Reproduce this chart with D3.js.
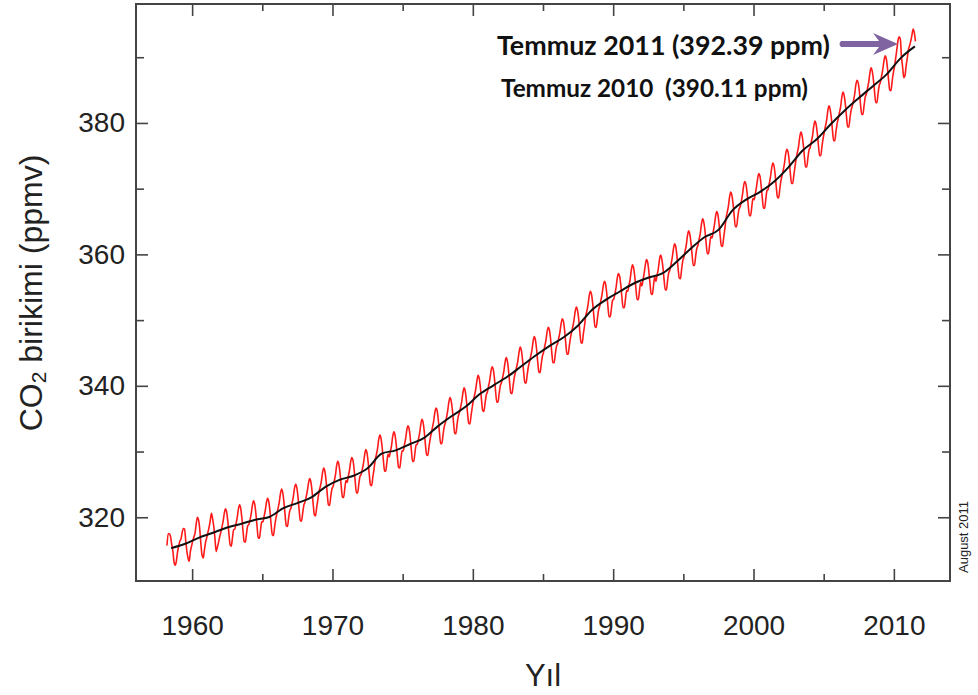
<!DOCTYPE html>
<html>
<head>
<meta charset="utf-8">
<script src="https://cdn.jsdelivr.net/npm/d3@7"></script>
<style>
  body { margin: 0; background: #fff; }
  svg { display: block; }
</style>
</head>
<body>
<div id="chart"></div>
<script>
// Years shown on the chart (Mauna Loa record, March 1958 - July 2011).
const years = [
  1958, 1959, 1960, 1961, 1962, 1963, 1964, 1965, 1966, 1967,
  1968, 1969, 1970, 1971, 1972, 1973, 1974, 1975, 1976, 1977,
  1978, 1979, 1980, 1981, 1982, 1983, 1984, 1985, 1986, 1987,
  1988, 1989, 1990, 1991, 1992, 1993, 1994, 1995, 1996, 1997,
  1998, 1999, 2000, 2001, 2002, 2003, 2004, 2005, 2006, 2007,
  2008, 2009, 2010, 2011
];

// Monthly CO2 values (ppmv), one row per year, Jan..Dec (red curve).
const monthlyCO2 = [
  [null, null, 315.7, 317.5, 317.5, 317.1, 315.9, 314.9, 313.2, 312.7, 313.3, 314.7],
  [315.6, 316.4, 316.7, 317.7, 318.3, 318.2, 316.5, 314.8, 313.8, 313.3, 314.8, 315.6],
  [316.4, 317.0, 317.6, 319.0, 320.0, 319.6, 318.2, 315.9, 314.2, 313.8, 315.0, 316.2],
  [316.9, 317.7, 318.5, 319.5, 320.6, 319.8, 318.6, 316.8, 314.8, 315.4, 316.1, 317.0],
  [317.7, 318.5, 319.4, 320.6, 321.3, 320.8, 319.4, 317.4, 315.8, 315.6, 316.9, 318.1],
  [318.2, 319.0, 319.9, 321.2, 321.9, 321.4, 319.9, 317.9, 316.3, 316.2, 317.5, 318.7],
  [318.9, 319.6, 320.5, 321.8, 322.5, 322.0, 320.6, 318.6, 316.9, 316.8, 318.1, 319.3],
  [319.3, 320.1, 321.0, 322.2, 322.9, 322.4, 321.0, 319.0, 317.4, 317.2, 318.5, 319.7],
  [320.6, 321.4, 322.3, 323.6, 324.3, 323.7, 322.3, 320.3, 318.7, 318.6, 319.9, 321.0],
  [321.4, 322.2, 323.1, 324.4, 325.0, 324.5, 323.1, 321.1, 319.5, 319.4, 320.6, 321.8],
  [322.3, 323.1, 324.0, 325.2, 325.9, 325.4, 324.0, 322.0, 320.4, 320.2, 321.5, 322.7],
  [323.9, 324.6, 325.5, 326.8, 327.5, 327.0, 325.6, 323.6, 321.9, 321.8, 323.1, 324.3],
  [324.7, 325.5, 326.4, 327.8, 328.5, 328.0, 326.6, 324.7, 323.1, 323.0, 324.3, 325.6],
  [325.3, 326.2, 327.1, 328.4, 329.1, 328.7, 327.3, 325.3, 323.7, 323.7, 325.0, 326.2],
  [326.5, 327.3, 328.2, 329.5, 330.3, 329.8, 328.4, 326.4, 324.9, 324.8, 326.1, 327.3],
  [328.7, 329.5, 330.4, 331.8, 332.5, 332.0, 330.6, 328.7, 327.1, 327.0, 328.3, 329.6],
  [329.2, 330.0, 330.9, 332.3, 333.0, 332.5, 331.1, 329.2, 327.6, 327.5, 328.8, 330.1],
  [330.1, 331.0, 331.9, 333.2, 333.9, 333.5, 332.1, 330.1, 328.5, 328.5, 329.8, 331.0],
  [331.1, 331.9, 332.8, 334.1, 334.9, 334.4, 333.0, 331.0, 329.5, 329.4, 330.7, 331.9],
  [332.8, 333.7, 334.6, 335.9, 336.6, 336.2, 334.8, 332.8, 331.2, 331.2, 332.5, 333.7],
  [334.4, 335.2, 336.2, 337.5, 338.2, 337.7, 336.4, 334.4, 332.8, 332.7, 334.1, 335.3],
  [335.9, 336.7, 337.6, 338.9, 339.7, 339.2, 337.8, 335.8, 334.3, 334.2, 335.5, 336.7],
  [337.8, 338.6, 339.5, 340.8, 341.6, 341.1, 339.7, 337.7, 336.2, 336.1, 337.4, 338.6],
  [339.1, 340.0, 340.9, 342.2, 342.9, 342.5, 341.1, 339.1, 337.5, 337.5, 338.8, 340.0],
  [340.5, 341.3, 342.2, 343.5, 344.3, 343.8, 342.4, 340.4, 338.9, 338.8, 340.1, 341.3],
  [342.1, 342.9, 343.8, 345.1, 345.9, 345.4, 344.0, 342.0, 340.5, 340.4, 341.7, 342.9],
  [343.7, 344.5, 345.4, 346.7, 347.5, 347.0, 345.6, 343.6, 342.1, 342.0, 343.3, 344.5],
  [345.1, 346.0, 346.9, 348.2, 348.9, 348.5, 347.1, 345.1, 343.5, 343.5, 344.8, 346.0],
  [346.4, 347.3, 348.2, 349.5, 350.2, 349.8, 348.4, 346.4, 344.8, 344.8, 346.1, 347.3],
  [348.2, 349.0, 350.0, 351.3, 352.0, 351.5, 350.2, 348.2, 346.6, 346.5, 347.9, 349.1],
  [350.6, 351.4, 352.3, 353.7, 354.4, 353.9, 352.5, 350.6, 349.0, 348.9, 350.2, 351.5],
  [352.1, 353.0, 353.9, 355.2, 355.9, 355.5, 354.1, 352.1, 350.5, 350.5, 351.8, 353.0],
  [353.2, 354.0, 355.0, 356.4, 357.1, 356.7, 355.4, 353.4, 351.9, 351.9, 353.2, 354.5],
  [354.4, 355.3, 356.2, 357.6, 358.4, 357.9, 356.6, 354.7, 353.1, 353.1, 354.5, 355.7],
  [355.2, 356.1, 357.1, 358.4, 359.2, 358.8, 357.4, 355.5, 354.0, 353.9, 355.3, 356.6],
  [355.9, 356.8, 357.7, 359.1, 359.9, 359.4, 358.1, 356.2, 354.6, 354.6, 356.0, 357.2],
  [357.6, 358.5, 359.5, 360.8, 361.6, 361.2, 359.8, 357.9, 356.4, 356.3, 357.7, 359.0],
  [359.6, 360.5, 361.4, 362.8, 363.6, 363.1, 361.8, 359.9, 358.3, 358.3, 359.7, 360.9],
  [361.4, 362.3, 363.2, 364.6, 365.4, 364.9, 363.6, 361.7, 360.1, 360.1, 361.5, 362.7],
  [362.5, 363.4, 364.4, 365.7, 366.5, 366.1, 364.7, 362.8, 361.3, 361.2, 362.6, 363.9],
  [365.5, 366.4, 367.3, 368.7, 369.5, 369.0, 367.7, 365.8, 364.2, 364.2, 365.6, 366.8],
  [367.2, 368.0, 369.0, 370.4, 371.1, 370.7, 369.4, 367.4, 365.9, 365.9, 367.2, 368.5],
  [368.3, 369.2, 370.2, 371.5, 372.3, 371.9, 370.5, 368.6, 367.1, 367.0, 368.4, 369.7],
  [369.9, 370.8, 371.8, 373.1, 373.9, 373.5, 372.1, 370.2, 368.7, 368.6, 370.0, 371.3],
  [372.1, 372.9, 373.9, 375.3, 376.0, 375.6, 374.3, 372.3, 370.8, 370.8, 372.1, 373.4],
  [374.6, 375.5, 376.4, 377.8, 378.6, 378.1, 376.8, 374.9, 373.3, 373.3, 374.7, 375.9],
  [376.3, 377.2, 378.1, 379.5, 380.3, 379.8, 378.5, 376.6, 375.0, 375.0, 376.4, 377.6],
  [378.6, 379.5, 380.4, 381.8, 382.6, 382.1, 380.8, 378.9, 377.3, 377.3, 378.7, 379.9],
  [380.7, 381.6, 382.5, 383.9, 384.7, 384.2, 382.9, 381.0, 379.4, 379.4, 380.8, 382.0],
  [382.6, 383.4, 384.4, 385.8, 386.5, 386.1, 384.8, 382.8, 381.3, 381.3, 382.6, 383.9],
  [384.4, 385.3, 386.2, 387.6, 388.4, 387.9, 386.6, 384.7, 383.1, 383.1, 384.5, 385.7],
  [386.2, 387.1, 388.1, 389.4, 390.2, 389.8, 388.4, 386.5, 385.0, 384.9, 386.3, 387.6],
  [388.5, 389.8, 391.1, 392.5, 393.1, 392.8, 390.1, 388.5, 386.9, 387.2, 388.7, 389.9],
  [391.2, 391.8, 392.5, 393.4, 394.3, 393.7, 392.4, null, null, null, null, null]
];

// Annual mean CO2 (ppmv), plotted mid-year (black trend curve).
const annualMeanCO2 = [
  315.3, 315.97, 316.91, 317.64, 318.45, 318.99, 319.62, 320.04, 321.38, 322.16,
  323.04, 324.62, 325.68, 326.32, 327.45, 329.68, 330.18, 331.11, 332.04, 333.83,
  335.40, 336.84, 338.75, 340.11, 341.45, 343.05, 344.65, 346.12, 347.42, 349.19,
  351.57, 353.12, 354.39, 355.61, 356.45, 357.10, 358.83, 360.82, 362.61, 363.73,
  366.70, 368.38, 369.55, 371.14, 373.28, 375.80, 377.52, 379.80, 381.90, 383.79,
  385.60, 387.43, 389.90, 391.65
];

// Tick values
const majorYearTicks = [1960, 1970, 1980, 1990, 2000, 2010];
const minorYearTicks = [1965, 1975, 1985, 1995, 2005];
const majorCO2Ticks = [320, 340, 360, 380];
const minorCO2Ticks = [330, 350, 370, 390];

// Annotation labels
const noteLines = ["Temmuz 2011 (392.39 ppm)", "Temmuz 2010  (390.11 ppm)"];

const width = 978;
const height = 695;

const svg = d3.select("#chart")
  .append("svg")
  .attr("width", width)
  .attr("height", height);

// Scales for the plotting box
const xScale = d3.scaleLinear().domain([1956, 2014]).range([136, 950]);
const yScale = d3.scaleLinear().domain([310.3, 398.1]).range([581, 4]);

// Flatten the monthly table into points, skipping missing months
const monthlyPoints = [];
years.forEach((yr, i) => {
  monthlyCO2[i].forEach((v, m) => {
    if (v !== null) monthlyPoints.push({ t: yr + (m + 0.5) / 12, v: v });
  });
});
const trendPoints = years.map((yr, i) => ({ t: yr + 0.5, v: annualMeanCO2[i] }));

const line = d3.line()
  .x(d => xScale(d.t))
  .y(d => yScale(d.v))
  .curve(d3.curveMonotoneX);

// Red monthly curve
svg.append("path")
  .datum(monthlyPoints)
  .attr("fill", "none")
  .attr("stroke", "#ff1a1a")
  .attr("stroke-width", 1.6)
  .attr("d", line);

// Black trend curve
svg.append("path")
  .datum(trendPoints)
  .attr("fill", "none")
  .attr("stroke", "#111")
  .attr("stroke-width", 2)
  .attr("d", line);

// Axes: ticks point inward on all four sides
function styleAxis(g) {
  g.select(".domain").remove();
  g.selectAll(".tick line").attr("stroke", "#444").attr("stroke-width", 1.6);
  g.selectAll("text")
    .attr("fill", "#222")
    .style("font-family", "'Liberation Sans', Arial, sans-serif")
    .style("font-size", "28px");
}

svg.append("g")
  .attr("transform", "translate(0,581)")
  .call(d3.axisBottom(xScale).tickValues(majorYearTicks).tickSize(-12)
    .tickPadding(34).tickFormat(d3.format("d")))
  .call(styleAxis);
svg.append("g")
  .attr("transform", "translate(0,581)")
  .call(d3.axisBottom(xScale).tickValues(minorYearTicks).tickSize(-7).tickFormat(""))
  .call(styleAxis);
svg.append("g")
  .attr("transform", "translate(0,4)")
  .call(d3.axisTop(xScale).tickValues(majorYearTicks).tickSize(-12).tickFormat(""))
  .call(styleAxis);
svg.append("g")
  .attr("transform", "translate(0,4)")
  .call(d3.axisTop(xScale).tickValues(minorYearTicks).tickSize(-7).tickFormat(""))
  .call(styleAxis);

svg.append("g")
  .attr("transform", "translate(136,0)")
  .call(d3.axisLeft(yScale).tickValues(majorCO2Ticks).tickSize(-12).tickPadding(11))
  .call(styleAxis);
svg.append("g")
  .attr("transform", "translate(136,0)")
  .call(d3.axisLeft(yScale).tickValues(minorCO2Ticks).tickSize(-8).tickFormat(""))
  .call(styleAxis);
svg.append("g")
  .attr("transform", "translate(950,0)")
  .call(d3.axisRight(yScale).tickValues(majorCO2Ticks).tickSize(-12).tickFormat(""))
  .call(styleAxis);
svg.append("g")
  .attr("transform", "translate(950,0)")
  .call(d3.axisRight(yScale).tickValues(minorCO2Ticks).tickSize(-8).tickFormat(""))
  .call(styleAxis);

// Plot frame
svg.append("rect")
  .attr("x", 136)
  .attr("y", 4)
  .attr("width", 950 - 136)
  .attr("height", 581 - 4)
  .attr("fill", "none")
  .attr("stroke", "#444")
  .attr("stroke-width", 2);

// Axis titles
svg.append("text")
  .attr("x", 543)
  .attr("y", 686)
  .attr("text-anchor", "middle")
  .attr("fill", "#222")
  .style("font-family", "'Liberation Sans', Arial, sans-serif")
  .style("font-size", "31px")
  .text("Yıl");

const yTitle = svg.append("text")
  .attr("transform", "translate(42,293) rotate(-90)")
  .attr("text-anchor", "middle")
  .attr("fill", "#222")
  .style("font-family", "'Liberation Sans', Arial, sans-serif")
  .style("font-size", "32px");
yTitle.append("tspan").text("CO");
yTitle.append("tspan").attr("font-size", "21px").attr("dy", 4).text("2");
yTitle.append("tspan").attr("dy", -4).text(" birikimi (ppmv)");

// Date stamp on the right
svg.append("text")
  .attr("transform", "translate(968,573) rotate(-90)")
  .attr("fill", "#222")
  .style("font-family", "'Liberation Sans', Arial, sans-serif")
  .style("font-size", "13px")
  .text("August 2011");

// Annotations
svg.append("text")
  .attr("x", 497)
  .attr("y", 55)
  .attr("textLength", 333)
  .attr("lengthAdjust", "spacingAndGlyphs")
  .attr("fill", "#111")
  .style("font-family", "Lato, 'Open Sans', sans-serif")
  .style("font-weight", "bold")
  .style("font-size", "26px")
  .text(noteLines[0]);

svg.append("text")
  .attr("x", 501)
  .attr("y", 97)
  .attr("textLength", 307)
  .attr("lengthAdjust", "spacingAndGlyphs")
  .attr("fill", "#111")
  .style("white-space", "pre")
  .style("font-family", "Lato, 'Open Sans', sans-serif")
  .style("font-weight", "bold")
  .style("font-size", "24px")
  .text(noteLines[1]);

// Purple arrow pointing at July 2011
svg.append("path")
  .attr("d", "M841,41 L879,41 Q876,37 873,33 L898,44 L873,55 Q876,51 879,47 L841,47 Q838,44 841,41 Z")
  .attr("fill", "#8064a2");
</script>
</body>
</html>
